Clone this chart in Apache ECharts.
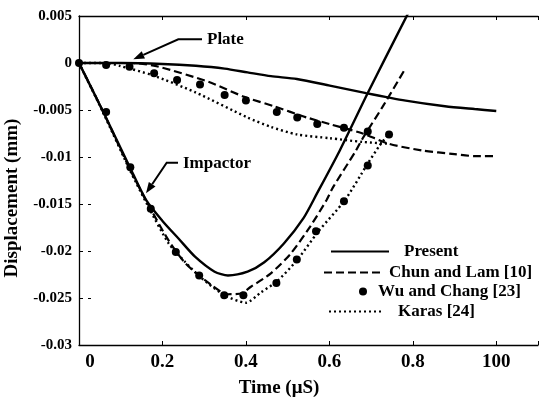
<!DOCTYPE html>
<html>
<head>
<meta charset="utf-8">
<script src="https://cdn.jsdelivr.net/npm/echarts@6/dist/echarts.min.js"></script>
<style>
  html, body { margin: 0; padding: 0; background: #fff; }
  #chart { width: 541px; height: 398px; }
</style>
</head>
<body>
<div id="chart"></div>
<script>
// Tick labels
const xTicks = [0, 0.2, 0.4, 0.6, 0.8, 1.0];
const xTickLabels = ['0', '0.2', '0.4', '0.6', '0.8', '100'];
const yTickLabels = ['-0.03', '-0.025', '-0.02', '-0.015', '-0.01', '-0.005', '0', '0.005'];

// Present — impactor and plate (time in µs, displacement in mm)
const presentImpT = [0, 0.057, 0.121, 0.161, 0.2, 0.239, 0.278, 0.325, 0.357, 0.404, 0.444, 0.491, 0.538, 0.57, 0.625, 0.692, 0.735, 0.79];
const presentImpD = [0, -0.0051, -0.0110, -0.0146, -0.0168, -0.0187, -0.0206, -0.0222, -0.0226, -0.0222, -0.0212, -0.0192, -0.0165, -0.0139, -0.0093, -0.0032, 0.0006, 0.0054];
const presentPlateT = [0, 0.1, 0.2, 0.28, 0.349, 0.404, 0.46, 0.522, 0.601, 0.688, 0.783, 0.877, 0.948, 1.0];
const presentPlateD = [0, 0, -0.0001, -0.0003, -0.0006, -0.0010, -0.0014, -0.0017, -0.0024, -0.0032, -0.0040, -0.0046, -0.0049, -0.0051];

// Chun and Lam [10]
const chunImpT = [0, 0.057, 0.121, 0.164, 0.215, 0.255, 0.302, 0.357, 0.39, 0.412, 0.459, 0.507, 0.554, 0.593, 0.609, 0.664, 0.68, 0.727, 0.782];
const chunImpD = [0, -0.0051, -0.0112, -0.0149, -0.0189, -0.0213, -0.0231, -0.0246, -0.0245, -0.0238, -0.0224, -0.0203, -0.0174, -0.0146, -0.0132, -0.0093, -0.0080, -0.0047, -0.0006];
const chunPlateT = [0, 0.128, 0.191, 0.31, 0.396, 0.467, 0.546, 0.601, 0.68, 0.743, 0.822, 0.9, 0.948, 0.995];
const chunPlateD = [0, 0, -0.0004, -0.0020, -0.0036, -0.0046, -0.0058, -0.0065, -0.0075, -0.0086, -0.0093, -0.0097, -0.0099, -0.0099];

// Wu and Chang [23]
const wuImpT = [0, 0.065, 0.123, 0.172, 0.232, 0.288, 0.348, 0.394, 0.473, 0.522, 0.568, 0.635, 0.692, 0.743];
const wuImpD = [0, -0.0052, -0.0111, -0.0155, -0.0201, -0.0226, -0.0247, -0.0247, -0.0234, -0.0209, -0.0179, -0.0147, -0.0109, -0.0076];
const wuPlateT = [0.065, 0.121, 0.18, 0.235, 0.29, 0.349, 0.40, 0.474, 0.523, 0.571, 0.635, 0.692];
const wuPlateD = [-0.0002, -0.0004, -0.0011, -0.0018, -0.0023, -0.0034, -0.0040, -0.0052, -0.0058, -0.0065, -0.0069, -0.0073];

// Karas [24]
const karasImpT = [0, 0.057, 0.121, 0.164, 0.215, 0.255, 0.294, 0.349, 0.4, 0.436, 0.475, 0.522, 0.574, 0.637, 0.692, 0.72, 0.745];
const karasImpD = [0, -0.0052, -0.0113, -0.0151, -0.0192, -0.0212, -0.0229, -0.0247, -0.0255, -0.0244, -0.0232, -0.0210, -0.0179, -0.0146, -0.0107, -0.0088, -0.0074];
const karasPlateT = [0, 0.065, 0.097, 0.176, 0.278, 0.404, 0.46, 0.522, 0.601, 0.68, 0.745];
const karasPlateD = [0, 0, -0.0003, -0.0013, -0.0031, -0.0058, -0.0068, -0.0076, -0.0080, -0.0084, -0.0086];

const FONT = 'Liberation Serif';
const zip = (t, d) => t.map((v, i) => [v, d[i]]);

const solid = { color: '#000', width: 2.4, type: 'solid' };
const dashed = { color: '#000', width: 2.2, type: [8, 4] };
const dotted = { color: '#000', width: 2.4, type: [2, 3] };

function lineSeries(name, t, d, style) {
  return {
    type: 'line', name, data: zip(t, d), symbol: 'none', smooth: 0.25,
    lineStyle: style, itemStyle: { color: '#000' }, z: 3
  };
}

function dotSeries(t, d) {
  return {
    type: 'scatter', name: 'Wu and Chang [23]', data: zip(t, d), symbol: 'circle', symbolSize: 8,
    itemStyle: { color: '#000', opacity: 1 }, z: 4
  };
}

const axisCommon = {
  type: 'value', splitLine: { show: false },
  axisLine: { show: true, onZero: false, lineStyle: { color: '#000', width: 1.3 } },
  axisTick: { show: true, inside: true, length: 4, lineStyle: { color: '#000', width: 1 } }
};

// One legend block per entry, so each row sits where it belongs
function legendAt(name, left, top, iconW, iconH, gap, lineOnly) {
  const item = { name };
  if (lineOnly) item.itemStyle = { opacity: 0 };
  return {
    data: [item], left, top, padding: 0, itemWidth: iconW, itemHeight: iconH,
    selectedMode: false,
    textStyle: { fontFamily: FONT, fontWeight: 'bold', fontSize: 17, color: '#000', padding: [0, 0, 0, gap] }
  };
}

// Leader line with a filled arrowhead pointing at `tip`
function leader(points, tip) {
  const from = points[points.length - 1];
  const dx = tip[0] - from[0], dy = tip[1] - from[1];
  const len = Math.hypot(dx, dy), ux = dx / len, uy = dy / len;
  const hl = 11, hw = 4;
  const base = [tip[0] - ux * hl, tip[1] - uy * hl];
  return [
    { type: 'polyline', shape: { points: points.concat([base]) }, style: { stroke: '#000', lineWidth: 2, fill: null }, z: 10 },
    { type: 'polygon', shape: { points: [tip, [base[0] - uy * hw, base[1] + ux * hw], [base[0] + uy * hw, base[1] - ux * hw]] }, style: { fill: '#000' }, z: 10 }
  ];
}

const chart = echarts.init(document.getElementById('chart'), null, { renderer: 'canvas' });
chart.setOption({
  animation: false,
  backgroundColor: '#fff',
  grid: { left: 79, top: 16, width: 466, height: 329 },
  xAxis: [
    Object.assign({}, axisCommon, {
      position: 'bottom', min: 0, max: 1.1, interval: 0.2,
      axisLabel: {
        margin: 8, fontFamily: FONT, fontWeight: 'bold', fontSize: 19, color: '#000',
        formatter: v => {
          const i = xTicks.findIndex(t => Math.abs(t - v) < 1e-6);
          if (i < 0) return '';
          return i === 0 ? '{z|' + xTickLabels[0] + '}' : xTickLabels[i];
        },
        rich: { z: { fontFamily: FONT, fontWeight: 'bold', fontSize: 19, color: '#000', padding: [0, 0, 0, 22] } }
      }
    }),
    Object.assign({}, axisCommon, {
      position: 'top', min: 0, max: 1.1, interval: 0.2, axisLabel: { show: false }
    })
  ],
  yAxis: [
    Object.assign({}, axisCommon, {
      position: 'left', min: -0.03, max: 0.005, interval: 0.005,
      axisLabel: {
        margin: 7, fontFamily: FONT, fontWeight: 'bold', fontSize: 15, color: '#000',
        formatter: v => yTickLabels[Math.round((v + 0.03) / 0.005)] || ''
      }
    }),
    Object.assign({}, axisCommon, {
      position: 'right', offset: -12, min: -0.03, max: 0.005, interval: 0.005,
      axisLine: { show: false }, axisLabel: { show: false },
      axisTick: { show: true, inside: true, length: 3, lineStyle: { color: '#000', width: 1 } }
    })
  ],
  legend: [
    legendAt('Present', 330, 243, 58, 10, 10, true),
    legendAt('Chun and Lam [10]', 323, 264, 57, 10, 3, true),
    legendAt('Wu and Chang [23]', 359, 283, 8, 8, 6, false),
    legendAt('Karas [24]', 328, 303, 54, 10, 10, true)
  ],
  series: [
    lineSeries('Present', presentImpT, presentImpD, solid),
    lineSeries('Present', presentPlateT, presentPlateD, solid),
    lineSeries('Chun and Lam [10]', chunImpT, chunImpD, dashed),
    lineSeries('Chun and Lam [10]', chunPlateT, chunPlateD, dashed),
    lineSeries('Karas [24]', karasImpT, karasImpD, dotted),
    lineSeries('Karas [24]', karasPlateT, karasPlateD, dotted),
    dotSeries(wuImpT, wuImpD),
    dotSeries(wuPlateT, wuPlateD)
  ],
  graphic: [
    { type: 'text', left: 207, top: 31, style: { text: 'Plate', fontFamily: FONT, fontWeight: 'bold', fontSize: 17, fill: '#000' }, z: 10 },
    { type: 'text', left: 183, top: 155, style: { text: 'Impactor', fontFamily: FONT, fontWeight: 'bold', fontSize: 17, fill: '#000' }, z: 10 },
    { type: 'text', x: 279, y: 388, style: { text: 'Time (μS)', fontFamily: FONT, fontWeight: 'bold', fontSize: 19, fill: '#000', align: 'center', verticalAlign: 'middle' } },
    { type: 'text', x: 12, y: 198, rotation: Math.PI / 2, style: { text: 'Displacement (mm)', fontFamily: FONT, fontWeight: 'bold', fontSize: 19, fill: '#000', align: 'center', verticalAlign: 'middle' } }
  ].concat(
    leader([[202, 39.3], [178.3, 39.3]], [133.3, 59.3]),
    leader([[178, 162.7], [166.7, 162.7]], [146, 193.3])
  )
});
</script>
</body>
</html>
